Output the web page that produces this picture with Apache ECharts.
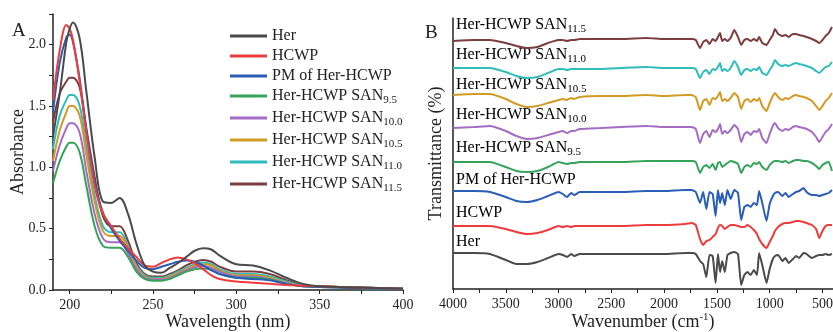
<!DOCTYPE html>
<html>
<head>
<meta charset="utf-8">
<script src="https://cdn.jsdelivr.net/npm/echarts@6/dist/echarts.min.js"></script>
<style>
  html, body { margin: 0; padding: 0; background: #fff; }
  #chart { width: 833px; height: 332px; }
</style>
</head>
<body>
<div id="chart"></div>
<script>
// series names and colours (shared by both panels)
const seriesNames = ['Her', 'HCWP', 'PM of Her-HCWP', 'Her-HCWP SAN9.5', 'Her-HCWP SAN10.0',
  'Her-HCWP SAN10.5', 'Her-HCWP SAN11.0', 'Her-HCWP SAN11.5']
const seriesColors = ['#4a4a4a', '#ee3b3b', '#2a5db5', '#36a35a', '#a46cc2', '#d39b24', '#2fbcbc', '#7b3d3d']

// Panel A: UV-Vis absorbance
const wavelengths = [190, 194, 198, 200, 202, 206, 210, 215, 220, 225, 230, 235, 240, 245, 250, 255,
  260, 265, 270, 275, 280, 285, 290, 300, 310, 320, 330, 340, 350, 375, 400]
const absHer = [1.25, 1.6, 2.02, 2.13, 2.18, 2.05, 1.62, 1.08, 0.72, 0.71, 0.75, 0.62, 0.38, 0.2, 0.15, 0.14,
  0.18, 0.22, 0.27, 0.32, 0.34, 0.33, 0.28, 0.21, 0.2, 0.16, 0.1, 0.05, 0.03, 0.02, 0.01]
const absHCWP = [1.55, 1.95, 2.16, 2.13, 2.04, 1.7, 1.28, 0.85, 0.62, 0.52, 0.42, 0.34, 0.27, 0.2, 0.19, 0.22,
  0.25, 0.265, 0.25, 0.22, 0.17, 0.12, 0.09, 0.07, 0.06, 0.05, 0.04, 0.035, 0.03, 0.02, 0.01]
const absPM = [1.45, 1.85, 2.06, 2.08, 2.02, 1.72, 1.3, 0.88, 0.63, 0.5, 0.4, 0.32, 0.24, 0.18, 0.17, 0.19,
  0.21, 0.23, 0.24, 0.23, 0.2, 0.16, 0.13, 0.1, 0.09, 0.08, 0.05, 0.03, 0.025, 0.015, 0.01]
const abs95 = [0.87, 1.05, 1.17, 1.2, 1.2, 1.12, 0.85, 0.52, 0.36, 0.345, 0.345, 0.27, 0.15, 0.09, 0.075, 0.075,
  0.09, 0.12, 0.15, 0.17, 0.175, 0.165, 0.13, 0.1, 0.1, 0.085, 0.05, 0.03, 0.025, 0.015, 0.01]
const abs100 = [0.97, 1.18, 1.32, 1.36, 1.36, 1.28, 0.97, 0.62, 0.42, 0.39, 0.39, 0.3, 0.17, 0.1, 0.085, 0.085,
  0.1, 0.13, 0.16, 0.185, 0.195, 0.18, 0.15, 0.11, 0.11, 0.09, 0.055, 0.03, 0.025, 0.015, 0.01]
const abs105 = [1.05, 1.3, 1.45, 1.5, 1.5, 1.42, 1.1, 0.72, 0.48, 0.44, 0.44, 0.34, 0.19, 0.11, 0.09, 0.09,
  0.11, 0.14, 0.17, 0.2, 0.21, 0.2, 0.16, 0.12, 0.12, 0.1, 0.06, 0.035, 0.03, 0.018, 0.01]
const abs110 = [1.15, 1.42, 1.55, 1.59, 1.59, 1.5, 1.17, 0.77, 0.52, 0.47, 0.47, 0.36, 0.2, 0.12, 0.1, 0.1,
  0.12, 0.15, 0.18, 0.21, 0.225, 0.21, 0.17, 0.13, 0.13, 0.11, 0.07, 0.04, 0.03, 0.02, 0.01]
const abs115 = [1.37, 1.6, 1.7, 1.73, 1.73, 1.65, 1.32, 0.92, 0.6, 0.52, 0.52, 0.4, 0.22, 0.13, 0.11, 0.11,
  0.13, 0.16, 0.2, 0.23, 0.245, 0.23, 0.19, 0.15, 0.15, 0.13, 0.08, 0.04, 0.03, 0.02, 0.01]
const uvSeries = [absHer, absHCWP, absPM, abs95, abs100, abs105, abs110, abs115]
const uvTicksX = [200, 225, 250, 275, 300, 325, 350, 375, 400]
const uvLabelsX = [200, 250, 300, 350, 400]
const uvTicksY = [0, 0.25, 0.5, 0.75, 1, 1.25, 1.5, 1.75, 2, 2.25]
const uvLabelsY = [0, 0.5, 1, 1.5, 2]

// Panel B: FTIR, stacked transmittance traces (arbitrary units)
const wavenumbers = [4000, 3800, 3650, 3500, 3400, 3300, 3200, 3100, 3000, 2960, 2920, 2880, 2850, 2800, 2600, 2400,
  2170, 2000, 1800, 1740, 1700, 1660, 1630, 1600, 1570, 1540, 1512, 1490, 1470, 1450, 1425, 1400,
  1370, 1335, 1300, 1270, 1240, 1210, 1180, 1150, 1120, 1100, 1070, 1030, 1000, 970, 950, 920,
  880, 850, 820, 780, 750, 720, 680, 650, 600, 560, 530, 500, 470, 440, 410]
const irHer = [36, 36, 35, 29, 25, 25, 27, 31, 35, 34, 32, 35, 33, 35, 35, 35,
  35, 35, 36, 36, 35, 28, 25, 12, 34, 33, 6, 35, 17, 28, 17, 34,
  36, 37, 35, 4, 14, 17, 14, 19, 14, 36, 24, 6, 20, 30, 33, 34,
  28, 31, 26, 30, 33, 31, 36, 35, 31, 33, 34, 34, 35, 34, 35]
const irHCWP = [63, 63, 63, 60, 57, 55, 56, 59, 63, 62, 63, 62, 63, 63, 63, 63,
  64, 64, 65, 66, 64, 50, 44, 48, 49, 52, 55, 61, 64, 63, 60, 62,
  64, 64, 63, 62, 62, 64, 62, 59, 55, 50, 45, 41, 47, 53, 58, 62,
  65, 66, 66, 67, 68, 68, 67, 66, 64, 60, 51, 58, 63, 64, 64]
const irPM = [98, 98, 97, 92, 88, 87, 89, 93, 97, 95, 92, 96, 94, 97, 97, 97,
  98, 98, 99, 99, 97, 86, 97, 80, 97, 95, 73, 99, 86, 96, 84, 99,
  90, 99, 96, 69, 82, 84, 82, 86, 84, 98, 86, 68, 85, 93, 96, 97,
  93, 96, 92, 95, 97, 98, 101, 97, 94, 94, 93, 94, 95, 96, 99]
const ir95 = [127, 127, 127, 122, 118, 117, 118, 122, 127, 126, 125, 126, 126, 127, 127, 127,
  128, 128, 128, 128, 127, 116, 122, 124, 121, 125, 119, 126, 127, 122, 124, 126,
  128, 127, 125, 116, 122, 124, 122, 126, 125, 127, 122, 119, 124, 127, 128, 128,
  127, 128, 126, 128, 129, 129, 128, 128, 126, 123, 120, 124, 126, 127, 118]
const ir100 = [161, 162, 163, 158, 153, 150, 151, 154, 157, 158, 156, 158, 158, 160, 161, 162,
  163, 162, 162, 162, 160, 146, 155, 158, 152, 159, 157, 160, 165, 155, 158, 156,
  159, 164, 160, 147, 155, 157, 154, 158, 157, 160, 151, 146, 155, 163, 166, 161,
  158, 160, 159, 162, 163, 162, 161, 160, 157, 152, 147, 152, 157, 160, 165]
const ir105 = [194, 195, 195, 190, 185, 182, 183, 186, 189, 190, 189, 191, 190, 192, 193, 193,
  194, 193, 194, 194, 192, 179, 188, 190, 184, 191, 190, 193, 197, 188, 190, 188,
  191, 196, 192, 180, 188, 190, 187, 190, 188, 191, 183, 178, 186, 193, 196, 192,
  189, 191, 190, 193, 194, 193, 192, 191, 188, 183, 179, 183, 188, 191, 196]
const ir110 = [221, 221, 221, 217, 213, 211, 212, 216, 220, 220, 219, 220, 220, 220, 220, 221,
  222, 221, 221, 221, 220, 211, 217, 219, 215, 220, 219, 222, 226, 218, 220, 218,
  221, 228, 222, 214, 219, 220, 218, 220, 219, 222, 216, 214, 219, 224, 229, 225,
  223, 224, 223, 225, 226, 225, 224, 223, 221, 218, 216, 219, 222, 223, 227]
const ir115 = [248, 249, 249, 246, 243, 241, 242, 246, 249, 249, 248, 249, 249, 250, 250, 250,
  251, 250, 250, 250, 249, 241, 247, 249, 245, 250, 248, 252, 256, 248, 250, 248,
  251, 259, 252, 244, 249, 250, 248, 250, 248, 252, 246, 244, 249, 254, 260, 255,
  253, 254, 252, 255, 255, 254, 253, 252, 250, 248, 246, 249, 253, 256, 262]
const irSeries = [irHer, irHCWP, irPM, ir95, ir100, ir105, ir110, ir115]
const irTicksX = [4000, 3750, 3500, 3250, 3000, 2750, 2500, 2250, 2000, 1750, 1500, 1250, 1000, 750, 500]
const irLabelsX = [4000, 3500, 3000, 2500, 2000, 1500, 1000, 500]
const irLabelTops = [244, 215, 182, 150, 117, 87, 57, 27]

const serif = '"Liberation Serif", "DejaVu Serif", serif'

// "Her-HCWP SAN9.5" -> rich text with subscript
function richName(name) {
  const m = name.match(/^(.*SAN)(\d+\.\d)$/)
  if (m) return '{m|' + m[1] + '}{s|' + m[2] + '}'
  return '{m|' + name + '}'
}

const richStyles = {
  m: { fontFamily: serif, fontSize: 16, color: '#222' },
  s: { fontFamily: serif, fontSize: 11, color: '#222', padding: [9, 0, 0, 0] }
}

const axisLineStyle = { color: '#222', width: 1.5 }

const chart = echarts.init(document.getElementById('chart'), null, { renderer: 'canvas' })

const option = {
  animation: false,
  backgroundColor: '#fff',
  grid: [
    { left: 53, right: 430, top: 14, bottom: 42, outerBoundsMode: 'none' },
    { left: 453, right: 0, top: 18, bottom: 43, outerBoundsMode: 'none' }
  ],
  legend: {
    data: seriesNames,
    orient: 'vertical',
    left: 230,
    top: 28,
    padding: 0,
    itemWidth: 37,
    itemHeight: 3,
    itemGap: 4,
    icon: 'rect',
    formatter: richName,
    textStyle: { rich: richStyles, padding: [0, 0, 0, 0] }
  },
  xAxis: [
    {
      gridIndex: 0, type: 'value', min: 190, max: 400,
      name: 'Wavelength (nm)', nameLocation: 'middle', nameGap: 23, nameMoveOverlap: false,
      nameTextStyle: { fontFamily: serif, fontSize: 18, color: '#222' },
      axisLine: { lineStyle: axisLineStyle },
      axisTick: { customValues: uvTicksX, length: 4, lineStyle: { color: '#222' } },
      axisLabel: { customValues: uvLabelsX, fontFamily: serif, fontSize: 14, color: '#222', margin: 8 },
      splitLine: { show: false }
    },
    {
      gridIndex: 1, type: 'value', min: 400, max: 4000, inverse: true,
      name: '{a|Wavenumber (cm}{sup|-1}{a|)}', nameLocation: 'middle', nameGap: 23, nameMoveOverlap: false,
      nameTextStyle: {
        rich: {
          a: { fontFamily: serif, fontSize: 18, color: '#222' },
          sup: { fontFamily: serif, fontSize: 11, color: '#222', padding: [0, 0, 9, 0] }
        }
      },
      axisLine: { lineStyle: axisLineStyle },
      axisTick: { customValues: irTicksX, length: 4, lineStyle: { color: '#222' } },
      axisLabel: {
        customValues: irLabelsX, fontFamily: serif, fontSize: 14, color: '#222', margin: 8,
        formatter: v => String(v)
      },
      splitLine: { show: false }
    }
  ],
  yAxis: [
    {
      gridIndex: 0, type: 'value', min: 0, max: 2.25,
      name: 'Absorbance', nameLocation: 'middle', nameGap: 26, nameMoveOverlap: false,
      nameTextStyle: { fontFamily: serif, fontSize: 18, color: '#222' },
      axisLine: { show: true, lineStyle: axisLineStyle },
      axisTick: { show: true, customValues: uvTicksY, length: 4, lineStyle: { color: '#222' } },
      axisLabel: {
        customValues: uvLabelsY, fontFamily: serif, fontSize: 14, color: '#222', margin: 7,
        formatter: v => v.toFixed(1)
      },
      splitLine: { show: false }
    },
    {
      gridIndex: 1, type: 'value', min: 0, max: 271,
      name: 'Transmittance (%)', nameLocation: 'middle', nameGap: 8, nameMoveOverlap: false,
      nameTextStyle: { fontFamily: serif, fontSize: 18, color: '#222' },
      axisLine: { show: true, lineStyle: axisLineStyle },
      axisTick: { show: false },
      axisLabel: { show: false },
      splitLine: { show: false }
    }
  ],
  graphic: [
    { type: 'text', left: 12, top: 22, style: { text: 'A', font: '19px ' + serif, fill: '#222' } },
    { type: 'text', left: 425, top: 24, style: { text: 'B', font: '19px ' + serif, fill: '#222' } }
  ].concat(seriesNames.map((name, i) => ({
    type: 'text', left: 456, top: irLabelTops[i] - 10,
    style: { text: richName(name), rich: richStyles }
  }))),
  series: []
}

uvSeries.forEach((vals, i) => {
  option.series.push({
    name: seriesNames[i], type: 'line', xAxisIndex: 0, yAxisIndex: 0,
    data: wavelengths.map((w, j) => [w, vals[j]]),
    smooth: 0.35, showSymbol: false,
    lineStyle: { width: 2, color: seriesColors[i] },
    itemStyle: { color: seriesColors[i] },
    z: 10 - i
  })
})

irSeries.forEach((vals, i) => {
  option.series.push({
    name: seriesNames[i], type: 'line', xAxisIndex: 1, yAxisIndex: 1,
    data: wavenumbers.map((w, j) => [w, vals[j]]),
    smooth: 0.15, showSymbol: false,
    lineStyle: { width: 2, color: seriesColors[i] },
    itemStyle: { color: seriesColors[i] }
  })
})

chart.setOption(option)
</script>
</body>
</html>
